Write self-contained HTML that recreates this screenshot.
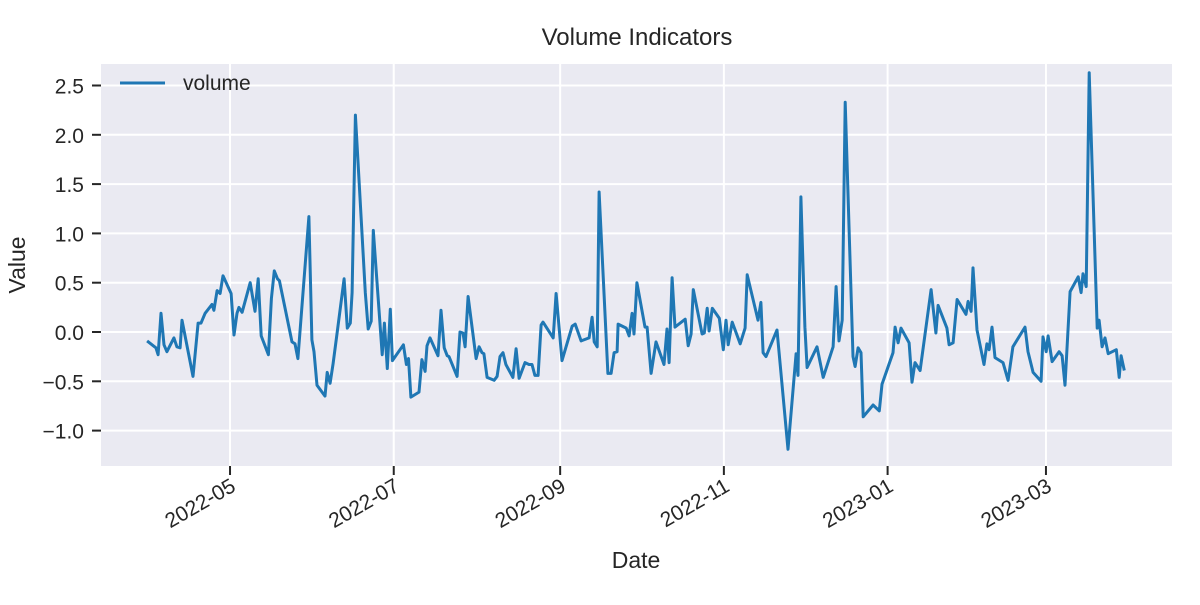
<!DOCTYPE html>
<html><head><meta charset="utf-8"><style>
body{margin:0;background:#fff;}
svg text{font-family:"Liberation Sans",sans-serif;fill:#262626;}
</style></head><body>
<svg id="chart" width="1200" height="600" xmlns="http://www.w3.org/2000/svg">
<rect x="101" y="64" width="1071" height="402" fill="#eaeaf2"/>
<g id="grid"></g>
<g id="axes"></g>
<polyline id="line" fill="none" stroke="#1f77b4" stroke-width="3" stroke-linejoin="round"/>
<text x="637" y="45" font-size="24" text-anchor="middle">Volume Indicators</text>
<text x="636" y="568" font-size="23" text-anchor="middle">Date</text>
<text x="25" y="265" font-size="23" text-anchor="middle" transform="rotate(-90 25 265)">Value</text>
<g>
<line x1="120" y1="83" x2="165" y2="83" stroke="#1f77b4" stroke-width="3"/>
<text x="183" y="90" font-size="21">volume</text>
</g>
</svg>
<script>
const dayOffsets=[-0.9,2.4,3.2,4.3,5.4,6.5,9.1,10.2,11.4,12.1,16.2,18.1,19.2,20.7,23.3,24.0,25.2,26.3,27.4,30.4,31.5,32.6,33.3,34.5,37.5,39.3,40.5,41.6,44.3,45.4,46.5,47.7,48.4,53.1,54.2,55.3,59.4,60.5,61.3,62.4,65.4,66.2,67.3,68.4,69.9,72.5,73.7,74.8,75.5,76.7,80.4,81.5,82.6,83.4,86.7,87.5,88.6,89.7,90.5,94.6,95.7,96.5,97.4,100.4,101.5,102.7,103.4,104.5,107.5,108.6,109.8,110.9,111.6,114.6,115.7,116.8,117.6,118.7,121.7,122.8,123.9,124.6,125.8,128.4,129.5,130.6,131.7,132.8,135.4,136.6,137.7,139.9,141.4,142.5,143.6,144.8,145.9,146.6,150.4,151.5,153.7,157.5,158.6,160.8,163.8,164.9,165.7,166.8,167.5,170.8,172.0,173.1,174.2,174.6,177.6,178.7,179.8,180.5,181.6,184.6,185.4,186.9,188.7,191.7,192.8,193.6,194.7,195.8,199.6,200.7,201.8,202.6,205.9,206.7,207.8,208.5,209.7,212.3,213.8,214.8,215.6,217.1,220.1,221.9,222.7,226.7,227.8,228.6,229.7,233.8,237.9,240.9,241.6,242.7,244.2,245.0,248.7,251.0,254.7,255.8,256.9,258.1,259.2,262.1,262.9,264.0,265.1,265.9,269.6,271.9,272.9,277.0,277.8,278.9,280.0,283.0,284.1,285.2,287.1,291.2,293.0,293.8,297.1,297.9,299.4,300.9,304.2,305.0,306.1,306.8,308.3,310.9,312.0,312.8,313.9,315.0,318.0,319.9,321.7,326.2,327.3,329.2,332.2,332.9,334.1,334.8,336.3,338.9,340.0,341.1,343.0,346.0,347.1,347.8,349.0,350.1,353.1,353.8,354.9,356.0,357.2,360.2,361.3,362.0,363.2];
const volumeValues=[-0.09,-0.16,-0.23,0.19,-0.13,-0.20,-0.06,-0.15,-0.16,0.12,-0.45,0.09,0.09,0.19,0.28,0.22,0.42,0.39,0.57,0.39,-0.03,0.19,0.25,0.20,0.50,0.21,0.54,-0.04,-0.23,0.34,0.62,0.54,0.52,-0.10,-0.12,-0.27,1.17,-0.08,-0.20,-0.54,-0.65,-0.41,-0.52,-0.32,-0.01,0.54,0.04,0.09,0.40,2.20,0.40,0.03,0.11,1.03,-0.23,0.09,-0.37,0.23,-0.29,-0.13,-0.33,-0.27,-0.66,-0.61,-0.28,-0.40,-0.14,-0.06,-0.24,0.22,-0.16,-0.24,-0.25,-0.45,0.00,-0.01,-0.15,0.36,-0.27,-0.15,-0.21,-0.22,-0.46,-0.49,-0.45,-0.25,-0.21,-0.33,-0.46,-0.17,-0.47,-0.31,-0.33,-0.33,-0.44,-0.44,0.07,0.10,-0.06,0.39,-0.29,0.06,0.08,-0.09,-0.06,0.15,-0.10,-0.15,1.42,-0.42,-0.42,-0.21,-0.20,0.08,0.04,-0.04,0.19,-0.02,0.50,0.05,0.05,-0.42,-0.10,-0.33,0.03,-0.31,0.55,0.05,0.13,-0.14,-0.02,0.43,-0.02,-0.01,0.24,0.01,0.24,0.14,-0.18,0.12,-0.13,0.10,-0.12,0.04,0.58,0.12,0.30,-0.21,-0.25,0.02,-1.19,-0.22,-0.44,1.37,0.05,-0.36,-0.15,-0.46,-0.15,0.46,-0.09,0.12,2.33,-0.25,-0.35,-0.16,-0.21,-0.86,-0.74,-0.80,-0.53,-0.21,0.05,-0.11,0.04,-0.11,-0.51,-0.31,-0.39,0.43,-0.01,0.27,0.04,-0.13,-0.11,0.33,0.18,0.31,0.21,0.65,0.02,-0.33,-0.12,-0.18,0.05,-0.26,-0.31,-0.49,-0.15,0.05,-0.20,-0.41,-0.50,-0.05,-0.20,-0.04,-0.30,-0.20,-0.24,-0.54,0.41,0.56,0.40,0.59,0.46,2.63,0.04,0.12,-0.15,-0.06,-0.22,-0.18,-0.46,-0.24,-0.39];
const xTickDays=[30,91,153,214,275,334];
const xTickLabels=["2022-05","2022-07","2022-09","2022-11","2023-01","2023-03"];
const yTickValues=[-1.0,-0.5,0.0,0.5,1.0,1.5,2.0,2.5];
const yTickLabels=["\u22121.0","\u22120.5","0.0","0.5","1.0","1.5","2.0","2.5"];

const NS="http://www.w3.org/2000/svg";
const xScale=d=>149.5+d*2.684;
const yScale=v=>332-v*98.6;
const grid=document.getElementById('grid'), axes=document.getElementById('axes');
function mk(tag,attrs,parent){const e=document.createElementNS(NS,tag);for(const k in attrs)e.setAttribute(k,attrs[k]);parent.appendChild(e);return e;}
yTickValues.forEach((v,i)=>{
  const y=yScale(v);
  const g=mk('line',{x1:101,x2:1172,y1:y,y2:y,stroke:'#fff','stroke-width':2},grid);
  
  
  const t=mk('line',{x1:92,x2:101,y1:y,y2:y,stroke:'#262626','stroke-width':2},axes);
  
  
  const l=mk('text',{x:84,y:y+8,'font-size':21,'text-anchor':'end'},axes);
  l.textContent=yTickLabels[i];
  
  
});
xTickDays.forEach((d,i)=>{
  const x=xScale(d);
  const g=mk('line',{x1:x,x2:x,y1:64,y2:466,stroke:'#fff','stroke-width':2},grid);
  
  
  const t=mk('line',{x1:x,x2:x,y1:466,y2:475,stroke:'#262626','stroke-width':2},axes);
  
  
  const l=mk('text',{x:x+7,y:490,'font-size':21,'text-anchor':'end',transform:`rotate(-30 ${x+7} 490)`},axes);
  l.textContent=xTickLabels[i];
  
  
});
document.getElementById('line').setAttribute('points',dayOffsets.map((d,i)=>xScale(d).toFixed(1)+','+yScale(volumeValues[i]).toFixed(1)).join(' '));
</script>
</body></html>
